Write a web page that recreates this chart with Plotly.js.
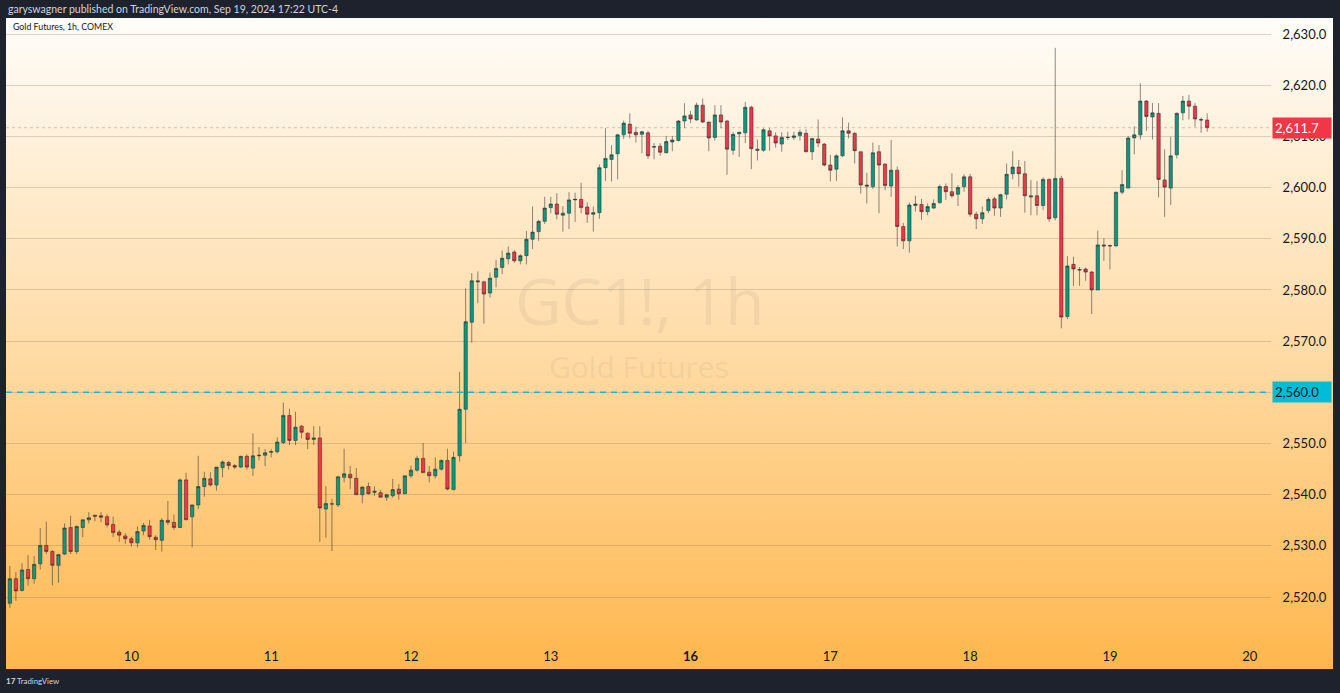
<!DOCTYPE html>
<html>
<head>
<meta charset="utf-8">
<script src="https://cdn.plot.ly/plotly-3.0.1.min.js"></script>
<style>
  html, body { margin: 0; padding: 0; background: #1e222d; width: 1340px; height: 693px; overflow: hidden; }
  #panel { position: absolute; left: 6px; top: 18px; width: 1327px; height: 651px;
           background: linear-gradient(to bottom, #fffdf9 0%, #ffdca8 50%, #ffb74d 100%); }
  #chart { position: absolute; left: 0; top: 0; width: 1340px; height: 693px; }
</style>
</head>
<body>
<div id="panel"></div>
<div id="chart"></div>
<script>
// ---- Data (Gold Futures GC1!, 1h, COMEX) ----
const openP = [2518.8,2523.6,2521.3,2525.4,2523.6,2526.5,2530.1,2528.9,2526.2,2528.4,
2533.6,2528.9,2533.6,2535.1,2536.0,2535.9,2535.7,2534.2,2532.7,2531.95,
2531.4,2530.6,2532.9,2533.9,2531.7,2531.1,2535.0,2534.6,2533.6,2542.9,
2535.7,2538.0,2541.6,2543.1,2541.9,2545.3,2546.3,2545.7,2545.4,2547.5,
2545.2,2547.6,2547.7,2548.3,2548.4,2550.2,2555.5,2550.6,2553.4,2552.0,
2550.8,2551.1,2537.2,2538.2,2538.0,2543.4,2544.0,2543.2,2540.0,2541.6,
2540.7,2540.4,2539.5,2539.8,2541.1,2540.2,2543.7,2544.8,2547.1,2544.4,
2543.7,2545.0,2546.7,2541.0,2547.6,2556.7,2573.7,2581.8,2581.6,2579.4,
2582.5,2584.4,2586.1,2587.4,2585.7,2586.7,2589.9,2591.4,2593.4,2596.1,
2596.8,2594.6,2595.0,2597.6,2597.7,2596.2,2594.8,2595.1,2603.9,2605.5,
2606.6,2610.3,2612.4,2610.8,2610.4,2610.7,2607.9,2608.1,2606.8,2608.9,
2609.2,2613.0,2614.2,2613.2,2616.1,2612.8,2609.8,2614.2,2613.0,2607.3,
2610.5,2610.7,2615.7,2607.5,2607.3,2611.1,2610.1,2608.5,2609.8,2609.8,
2610.2,2610.6,2607.0,2609.5,2608.5,2604.4,2603.6,2606.2,2611.1,2610.6,
2607.0,2600.5,2600.2,2607.0,2604.6,2600.3,2603.4,2592.4,2589.6,2596.5,
2596.7,2595.3,2596.0,2597.1,2600.2,2599.2,2598.7,2600.2,2602.1,2594.8,
2593.9,2595.5,2597.8,2596.0,2598.7,2602.7,2604.0,2602.7,2598.4,2598.4,
2596.5,2601.6,2594.1,2601.8,2574.8,2585.0,2584.0,2584.1,2583.5,2580.0,
2588.8,2588.7,2588.6,2599.1,2599.9,2609.7,2610.3,2616.9,2613.8,2614.5,
2601.5,2599.9,2606.4,2614.6,2616.9,2615.9,2613.3,2613.2];
const highP = [2526.1,2524.9,2526.6,2528.2,2528.0,2533.5,2534.7,2529.2,2528.4,2534.4,
2535.9,2534.0,2535.2,2536.6,2536.1,2536.6,2536.2,2535.7,2533.1,2532.5,
2531.8,2533.8,2534.5,2535.1,2532.1,2535.4,2538.8,2536.1,2543.2,2544.3,
2538.1,2547.6,2544.5,2544.4,2545.4,2546.7,2546.6,2546.0,2547.6,2547.9,
2552.0,2549.3,2548.9,2548.9,2551.2,2558.0,2556.8,2556.2,2553.6,2552.2,
2553.4,2553.4,2541.7,2539.2,2543.7,2549.0,2545.6,2545.2,2541.6,2542.4,
2541.6,2540.9,2540.2,2543.1,2542.1,2543.7,2545.7,2547.6,2550.1,2545.6,
2547.3,2546.9,2549.0,2548.4,2564.0,2580.3,2583.3,2583.6,2581.8,2583.4,
2585.9,2587.7,2588.5,2587.8,2587.0,2591.5,2596.3,2593.7,2598.2,2598.2,
2598.9,2596.4,2599.1,2599.0,2600.9,2597.1,2596.3,2604.5,2611.6,2608.3,
2610.5,2613.1,2614.5,2611.9,2611.1,2611.1,2608.7,2608.7,2610.1,2610.1,
2613.2,2616.5,2615.0,2616.6,2617.4,2612.9,2616.1,2616.1,2613.2,2610.9,
2610.9,2616.7,2616.0,2609.4,2611.6,2611.6,2610.8,2610.8,2610.9,2610.9,
2611.3,2611.4,2609.7,2613.3,2608.7,2606.4,2606.5,2613.7,2612.7,2610.8,
2607.0,2602.9,2608.8,2608.3,2604.7,2609.3,2604.1,2593.1,2597.1,2598.4,
2597.8,2596.9,2597.7,2600.6,2600.8,2602.8,2600.5,2602.6,2602.7,2595.3,
2596.3,2598.1,2598.2,2598.8,2604.7,2607.1,2605.4,2605.2,2601.5,2601.3,
2602.0,2601.8,2627.3,2602.3,2586.6,2586.5,2584.5,2584.4,2583.7,2591.6,
2590.1,2588.8,2599.2,2603.4,2610.1,2612.0,2620.4,2617.1,2616.5,2616.5,
2607.5,2609.9,2614.7,2617.9,2618.1,2616.5,2613.7,2614.5];
const lowP = [2517.9,2519.3,2521.1,2522.2,2522.6,2525.4,2528.4,2522.3,2522.8,2528.2,
2528.4,2528.4,2531.7,2534.4,2534.8,2534.6,2533.6,2531.7,2530.8,2530.4,
2529.9,2529.7,2532.1,2531.2,2529.2,2528.9,2534.1,2533.1,2533.5,2535.1,
2529.7,2537.2,2539.6,2541.6,2540.8,2543.4,2544.9,2545.0,2545.2,2544.9,
2543.7,2546.7,2545.6,2547.3,2548.1,2549.9,2549.7,2549.7,2551.0,2548.9,
2549.7,2530.8,2531.6,2529.0,2537.6,2542.4,2541.1,2540.0,2538.3,2540.0,
2539.8,2539.5,2538.8,2539.4,2539.0,2540.1,2543.3,2544.5,2544.3,2542.4,
2543.2,2544.7,2540.9,2540.9,2546.5,2550.1,2569.7,2577.4,2573.4,2578.5,
2580.5,2583.1,2585.0,2585.3,2585.0,2585.0,2588.0,2589.6,2592.9,2595.0,
2593.8,2591.4,2591.9,2593.3,2595.0,2593.1,2591.4,2593.9,2601.3,2601.2,
2601.6,2609.5,2609.6,2608.8,2606.7,2605.6,2605.5,2606.2,2606.7,2607.1,
2609.0,2611.6,2612.6,2613.1,2612.6,2607.1,2609.2,2611.6,2602.5,2606.4,
2606.0,2608.7,2603.6,2605.3,2607.0,2607.2,2607.8,2607.0,2609.3,2609.3,
2609.2,2606.9,2605.4,2607.9,2604.1,2601.2,2601.3,2606.0,2609.6,2604.7,
2598.8,2596.9,2599.7,2595.0,2599.5,2598.2,2588.5,2588.0,2587.3,2595.3,
2593.7,2594.6,2595.8,2596.8,2597.6,2598.0,2596.4,2599.2,2594.3,2591.9,
2592.9,2595.0,2594.5,2594.3,2597.7,2601.6,2600.2,2595.1,2594.6,2594.6,
2595.6,2593.3,2593.6,2572.5,2574.3,2580.8,2580.8,2581.8,2575.3,2580.0,
2585.7,2584.0,2588.5,2598.7,2599.9,2606.5,2609.4,2611.1,2609.4,2598.1,
2594.3,2596.6,2605.7,2613.2,2613.3,2611.9,2610.7,2610.9];
const closeP = [2523.6,2521.2,2525.3,2523.6,2526.4,2530.1,2528.9,2526.2,2528.3,2533.5,
2528.9,2533.8,2535.1,2535.5,2535.8,2535.6,2534.1,2532.6,2532.1,2531.4,
2530.6,2532.8,2534.0,2531.8,2531.2,2535.0,2534.6,2533.6,2542.9,2535.1,
2538.0,2541.6,2543.2,2541.9,2545.4,2546.4,2545.7,2545.4,2547.5,2545.4,
2547.6,2547.7,2548.2,2548.4,2550.3,2555.5,2550.6,2553.2,2552.2,2550.8,
2551.1,2537.4,2538.3,2538.2,2543.5,2544.1,2543.3,2540.0,2541.5,2540.2,
2540.5,2539.5,2540.0,2541.0,2540.2,2543.7,2544.8,2547.1,2544.3,2543.7,
2545.0,2546.7,2541.1,2547.3,2556.7,2573.8,2581.8,2581.6,2579.2,2582.3,
2584.2,2586.2,2587.2,2585.7,2586.7,2589.9,2591.3,2593.4,2596.0,2596.8,
2594.8,2595.0,2597.6,2597.7,2596.1,2594.8,2595.1,2603.9,2605.7,2606.4,
2610.3,2612.6,2610.6,2610.3,2610.9,2606.2,2608.0,2606.9,2609.0,2609.3,
2613.0,2614.0,2613.4,2616.1,2612.8,2609.7,2614.2,2612.8,2607.5,2610.4,
2610.8,2615.7,2607.6,2607.3,2611.3,2610.1,2608.7,2609.8,2609.8,2610.1,
2610.8,2607.0,2609.6,2608.7,2604.4,2603.4,2606.2,2611.1,2610.6,2607.2,
2600.5,2600.3,2606.8,2604.4,2600.4,2603.4,2592.4,2589.6,2596.6,2596.8,
2595.3,2596.3,2596.9,2600.2,2599.2,2598.4,2600.0,2602.1,2594.8,2593.9,
2595.1,2597.7,2596.0,2598.6,2602.6,2604.0,2602.7,2598.4,2598.2,2596.5,
2601.6,2593.9,2601.8,2574.7,2584.7,2584.1,2583.9,2583.5,2580.0,2588.8,
2588.6,2588.6,2599.1,2600.6,2609.7,2610.3,2616.9,2613.9,2614.6,2601.6,
2600.1,2606.2,2614.5,2616.9,2615.9,2613.4,2613.2,2611.7];

const dayTickBars = [20, 43, 66, 89, 112, 135, 158, 181, 204];
const dayTickLabels = ['10', '11', '12', '13', '<b>16</b>', '17', '18', '19', '20'];
const priceTicks = [2520, 2530, 2540, 2550, 2560, 2570, 2580, 2590, 2600, 2610, 2620, 2630];
const alertLevel = 2560.0;
const lastPrice = closeP[closeP.length - 1];

// ---- Geometry helpers (pixel -> paper) ----
const W = 1340, H = 693, ML = 6, MR = 69, MT = 18, MB = 53;
const PW = W - ML - MR, PH = H - MT - MB;
const px = v => (v - ML) / PW;
const py = v => (H - MB - v) / PH;

const barIndex = openP.map((_, i) => i);
const fmt = v => v.toLocaleString('en-US', {minimumFractionDigits: 1, maximumFractionDigits: 1});
// the alert label box on the scale shows the 2,560.0 value itself
const priceTickText = priceTicks.map(v => v === alertLevel ? '' : fmt(v));

const trace = {
  type: 'candlestick',
  x: barIndex, open: openP, high: highP, low: lowP, close: closeP,
  increasing: { fillcolor: '#089981', line: { color: 'rgba(45,45,45,0.55)', width: 1 } },
  decreasing: { fillcolor: '#f23645', line: { color: 'rgba(45,45,45,0.55)', width: 1 } },
  whiskerwidth: 0,
  hoverinfo: 'skip',
  showlegend: false
};

const axisFont = { family: 'Lato, "Open Sans", sans-serif', size: 13, color: '#131722' };

const layout = {
  width: W, height: H,
  margin: { l: ML, r: MR, t: MT, b: MB },
  paper_bgcolor: 'rgba(0,0,0,0)',
  plot_bgcolor: 'rgba(0,0,0,0)',
  showlegend: false,
  boxgap: 0.22,
  hovermode: false,
  xaxis: {
    type: 'linear',
    range: [-0.63, 207.5],
    tickmode: 'array', tickvals: dayTickBars, ticktext: dayTickLabels,
    showgrid: false, zeroline: false, showline: false,
    ticks: 'outside', ticklen: 4, tickcolor: 'rgba(0,0,0,0)',
    tickfont: axisFont,
    rangeslider: { visible: false },
    fixedrange: true
  },
  yaxis: {
    side: 'right',
    range: [2511.62, 2633.13],
    tickmode: 'array', tickvals: priceTicks,
    ticktext: priceTickText,
    showgrid: true, gridcolor: 'rgba(130,110,90,0.28)', gridwidth: 1,
    zeroline: false, showline: false,
    ticks: 'outside', ticklen: 8, tickcolor: 'rgba(0,0,0,0)',
    tickfont: axisFont,
    fixedrange: true
  },
  shapes: [
    { type: 'line', xref: 'paper', x0: 0, x1: 1, yref: 'y', y0: lastPrice, y1: lastPrice,
      line: { color: 'rgba(242,54,69,0.35)', width: 1, dash: 'dot' } },
    { type: 'line', xref: 'paper', x0: 0, x1: 1, yref: 'y', y0: alertLevel, y1: alertLevel,
      line: { color: '#1fb3cf', width: 1.5, dash: '6px,5px' } }
  ],
  annotations: [
    // watermark
    { xref: 'paper', yref: 'paper', x: px(639), y: py(300), text: 'GC1!, 1h', showarrow: false,
      font: { family: '"Open Sans", sans-serif', size: 64, color: 'rgba(170,145,120,0.15)' } },
    { xref: 'paper', yref: 'paper', x: px(639), y: py(366), text: 'Gold Futures', showarrow: false,
      font: { family: '"Open Sans", sans-serif', size: 30, color: 'rgba(170,145,120,0.15)' } },
    // top bar text
    { xref: 'paper', yref: 'paper', x: px(6), y: py(9), xanchor: 'left', yanchor: 'middle',
      text: 'garyswagner published on TradingView.com, Sep 19, 2024 17:22 UTC-4', showarrow: false,
      font: { family: 'Lato, sans-serif', size: 10.5, color: '#d1d4dc' } },
    // legend text
    { xref: 'paper', yref: 'paper', x: px(11), y: py(27), xanchor: 'left', yanchor: 'middle',
      text: 'Gold Futures, 1h, COMEX', showarrow: false,
      font: { family: 'Lato, sans-serif', size: 8.8, color: '#131722' } },
    // bottom bar
    { xref: 'paper', yref: 'paper', x: px(4), y: py(681), xanchor: 'left', yanchor: 'middle',
      text: '<b>17</b>', showarrow: false,
      font: { family: 'Lato, sans-serif', size: 8, color: '#d1d4dc' } },
    { xref: 'paper', yref: 'paper', x: px(15), y: py(681), xanchor: 'left', yanchor: 'middle',
      text: 'TradingView', showarrow: false,
      font: { family: 'Lato, sans-serif', size: 7.8, color: '#d1d4dc' } },
    // price labels on scale
    { xref: 'paper', yref: 'y', x: 1, y: lastPrice, xanchor: 'left', yanchor: 'middle', xshift: 1,
      text: fmt(lastPrice) + '&nbsp;', showarrow: false, bgcolor: '#f23645', borderpad: 2, width: 54, align: 'left',
      font: { family: 'Lato, sans-serif', size: 13, color: '#ffffff' } },
    { xref: 'paper', yref: 'y', x: 1, y: alertLevel, xanchor: 'left', yanchor: 'middle', xshift: 1,
      text: fmt(alertLevel) + '&nbsp;', showarrow: false, bgcolor: '#00bcd4', borderpad: 2, width: 54, align: 'left',
      font: { family: 'Lato, sans-serif', size: 13, color: '#131722' } }
  ]
};

Plotly.newPlot('chart', [trace], layout, { displayModeBar: false, staticPlot: true });
</script>
</body>
</html>
